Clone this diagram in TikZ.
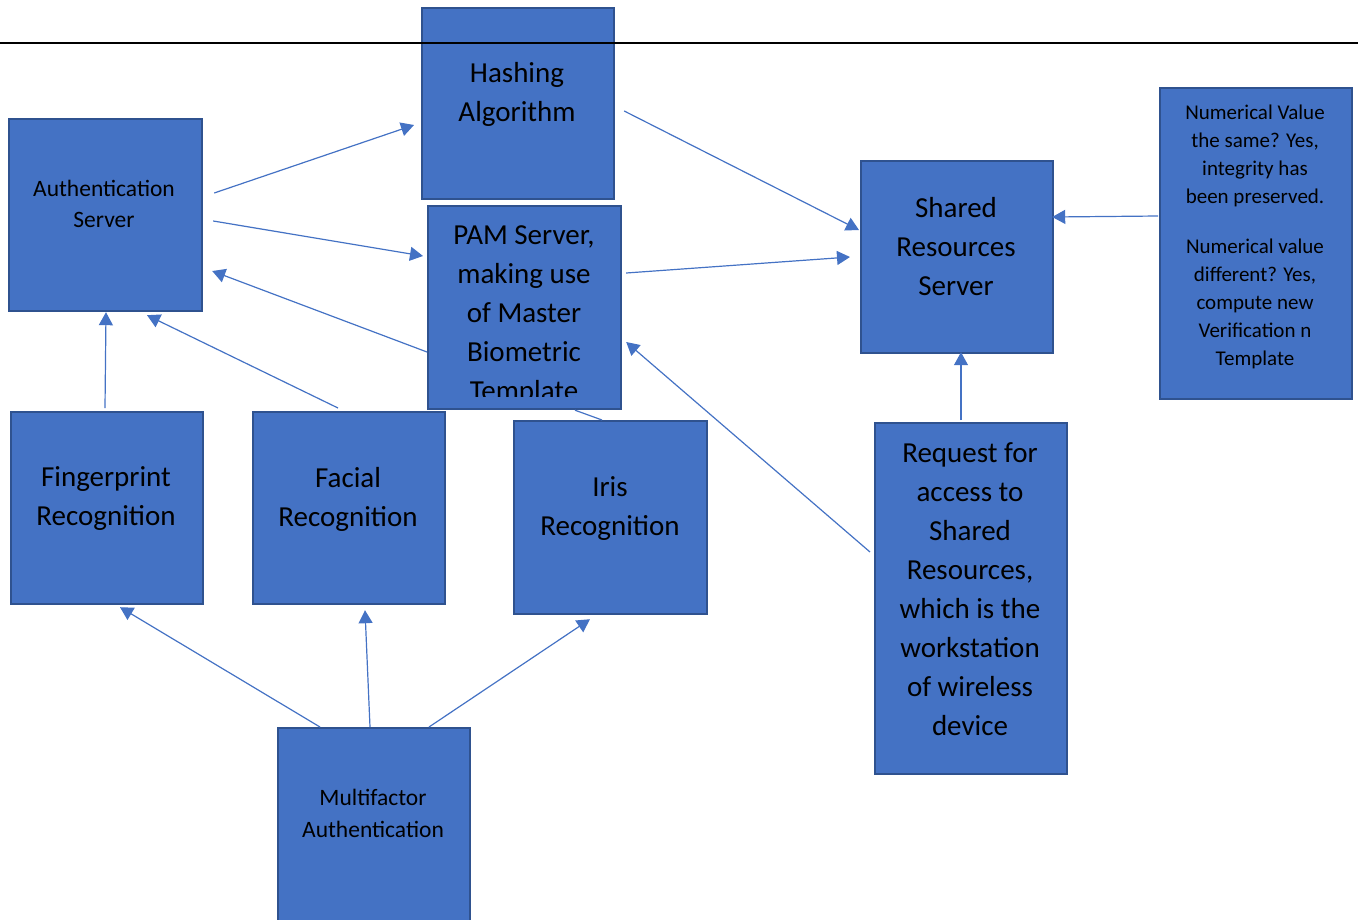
\documentclass[tikz,border=0pt]{standalone}
\usepackage{fontspec}
\setmainfont{Carlito}
\usetikzlibrary{arrows.meta,calc}
\definecolor{boxfill}{HTML}{4472C4}
\definecolor{boxline}{HTML}{2F528F}
\definecolor{arrcol}{HTML}{4472C4}
\tikzset{
  box/.style={draw=boxline, fill=boxfill, line width=2.2pt, rectangle, anchor=north west, inner sep=0pt},
  big/.style={font=\fontsize{29}{39}\selectfont, align=center, text=black, inner sep=0pt},
  mid/.style={font=\fontsize{23.5}{31}\selectfont, align=center, text=black, inner sep=0pt},
  midb/.style={font=\fontsize{23.5}{32}\selectfont, align=center, text=black, inner sep=0pt},
  sml/.style={font=\fontsize{21}{28}\selectfont, align=center, text=black, inner sep=0pt},
  arr/.style={draw=arrcol, line width=1.2pt, -{Triangle[length=13pt,width=14pt]}},
  plain/.style={draw=arrcol, line width=1.2pt},
}
\begin{document}
\begin{tikzpicture}[x=1pt,y=-1pt]
\useasboundingbox (0,0) rectangle (1358,919);
% boxes
\node[box, minimum width=192pt, minimum height=191pt] (hash) at (421,7) {};
\node[box, minimum width=193pt, minimum height=192pt] (auth) at (8,118) {};
\node[box, minimum width=193pt, minimum height=203pt] (pam) at (427,205) {};
\node[box, minimum width=192pt, minimum height=192pt] (shared) at (860,160) {};
\node[box, minimum width=192pt, minimum height=311pt] (num) at (1159,87) {};
\node[box, minimum width=192pt, minimum height=192pt] (finger) at (10,411) {};
\node[box, minimum width=192pt, minimum height=192pt] (facial) at (252,411) {};
\node[box, minimum width=193pt, minimum height=193pt] (iris) at (513,420) {};
\node[box, minimum width=192pt, minimum height=351pt] (req) at (874,422) {};
\node[box, minimum width=192pt, minimum height=230pt] (multi) at (277,727) {};
% texts
\node[big] (hashT) at (517,94) {Hashing\\Algorithm};
\node[mid] (authT) at (104,204) {Authentication\\Server};
\begin{scope}
\clip (427,205) rectangle (620,396.5);
\node[big] (pamT) at (524,315) {PAM Server,\\making use\\of Master\\Biometric\\Template};
\end{scope}
\node[big] (sharedT) at (956,246.5) {Shared\\Resources\\Server};
\node[sml] (numT) at (1255,237) {Numerical Value\\the same? Yes,\\integrity has\\been preserved.\\[22pt]Numerical value\\different? Yes,\\compute new\\Verification n\\Template};
\node[big] (fingerT) at (106,499) {Fingerprint\\Recognition};
\node[big] (facialT) at (348,499) {Facial\\Recognition};
\node[big] (irisT) at (610,509) {Iris\\Recognition};
\node[big] (reqT) at (970,589.5) {Request for\\access to\\Shared\\Resources,\\which is the\\workstation\\of wireless\\device};
\node[midb] (multiT) at (373,813.5) {Multifactor\\Authentication};
% top rule
\draw[black, line width=2pt] (0,43) coordinate (ruleL) -- (1358,43) coordinate (ruleR);
% connectors
\draw[arr] ([shift={(11,75)}]auth.north east) -- ([shift={(-7,118)}]hash.north west);
\draw[arr] ([shift={(10,103)}]auth.north east) -- ([shift={(-4,51)}]pam.north west);
\draw[arr] ([shift={(0,147)}]pam.north west) -- ([shift={(9,153)}]auth.north east);
\draw[arr] ([shift={(9,104)}]hash.north east) -- ([shift={(-1,70)}]shared.north west);
\draw[arr] ([shift={(4,68)}]pam.north east) -- ([shift={(-10,97)}]shared.north west);
\draw[arr] ([shift={(-1,129)}]num.north west) -- ([shift={(-2,57)}]shared.north east);
\draw[arr] ([shift={(87,-2)}]req.north west) -- ([shift={(101,-2)}]shared.south west);
\draw[arr] ([shift={(-4,130)}]req.north west) -- ([shift={(4,137)}]pam.north east);
\draw[arr] ([shift={(95,-3)}]finger.north west) -- ([shift={(98,0)}]auth.south west);
\draw[arr] ([shift={(86,-3)}]facial.north west) -- ([shift={(139,3)}]auth.south west);
\draw[plain] ([shift={(148,0)}]pam.south west) -- ([shift={(89,0)}]iris.north west);
\draw[arr] ([shift={(43,0)}]multi.north west) -- ([shift={(110,2)}]finger.south west);
\draw[arr] ([shift={(93,0)}]multi.north west) -- ([shift={(113,5)}]facial.south west);
\draw[arr] ([shift={(152,0)}]multi.north west) -- ([shift={(77,4)}]iris.south west);
\end{tikzpicture}
\end{document}
